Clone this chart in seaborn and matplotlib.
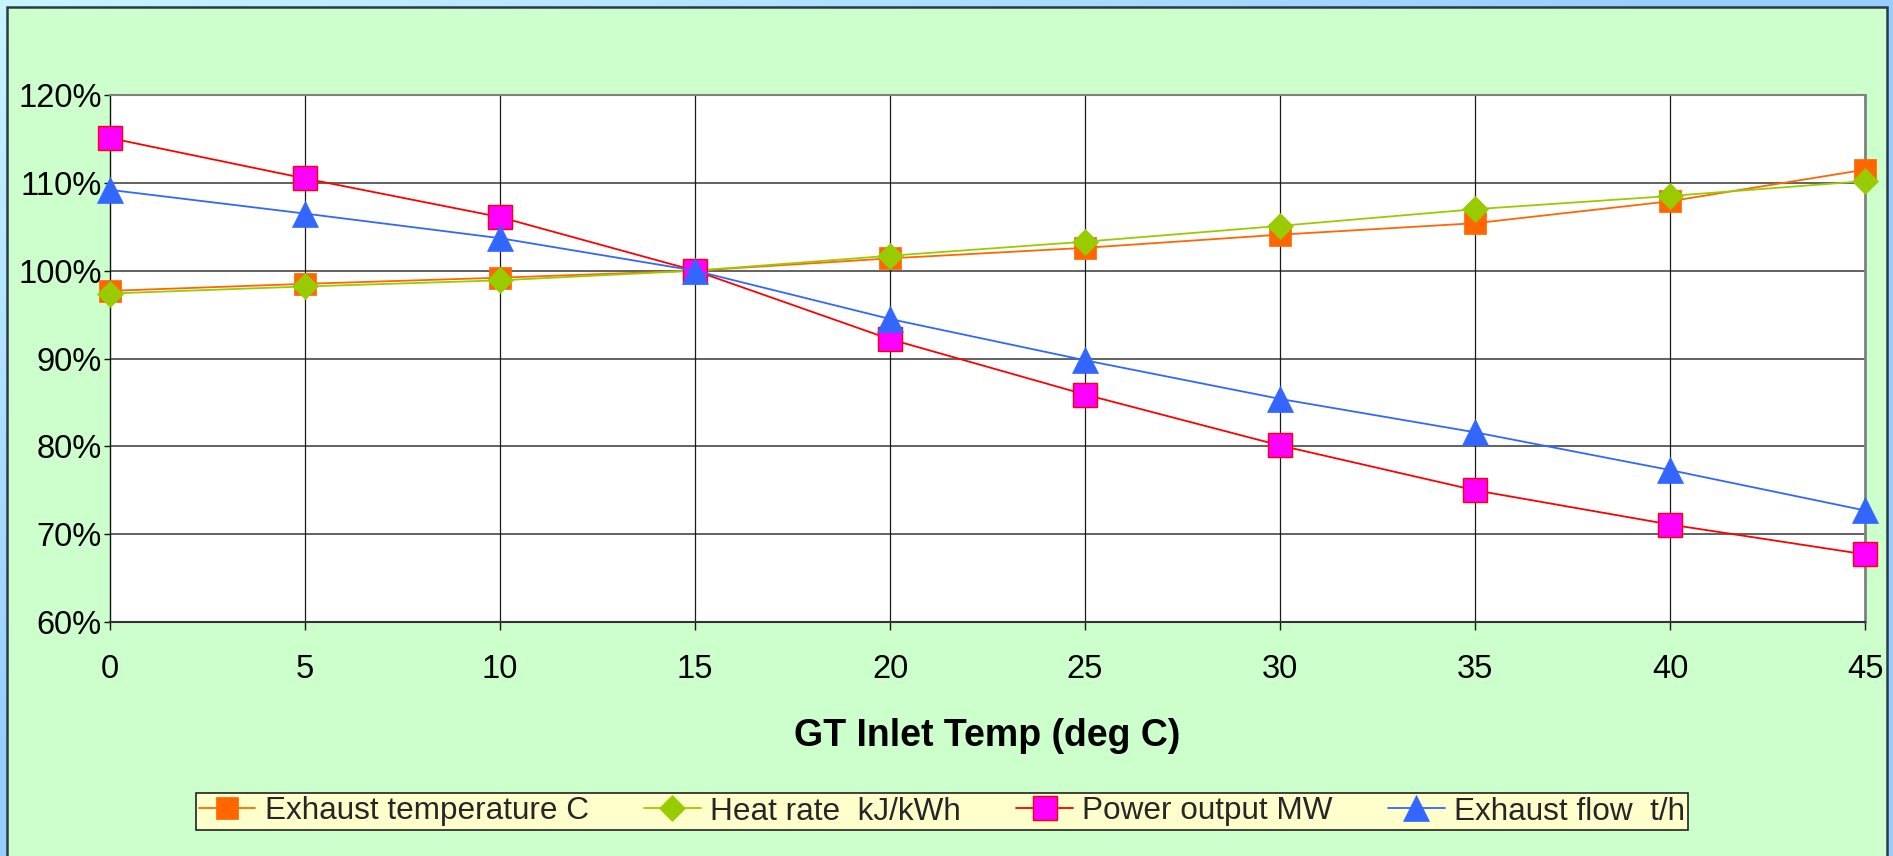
import numpy as np
import pandas as pd
import matplotlib
matplotlib.use("Agg")
import matplotlib.pyplot as plt
from matplotlib.patches import Rectangle
from matplotlib.ticker import FuncFormatter
import seaborn as sns

# GT performance vs inlet temperature, as % of ISO (15 deg C) value
inlet_temp = [0, 5, 10, 15, 20, 25, 30, 35, 40, 45]
exhaust_temp = [97.7, 98.5, 99.2, 100.0, 101.4, 102.6, 104.1, 105.4, 107.9, 111.5]
heat_rate = [97.4, 98.2, 98.9, 100.0, 101.7, 103.3, 105.1, 107.0, 108.5, 110.2]
power_output = [115.1, 110.5, 106.1, 100.0, 92.2, 85.9, 80.1, 75.0, 71.1, 67.7]
exhaust_flow = [109.2, 106.5, 103.7, 100.0, 94.5, 89.8, 85.4, 81.6, 77.3, 72.7]

series_labels = ["Exhaust temperature C", "Heat rate  kJ/kWh",
                 "Power output MW", "Exhaust flow  t/h"]
y_ticks = [60, 70, 80, 90, 100, 110, 120]
x_ticks = [0, 5, 10, 15, 20, 25, 30, 35, 40, 45]
x_title = "GT Inlet Temp (deg C)"

sns.set_theme(style="white")
plt.rcParams["font.family"] = ["Liberation Sans", "DejaVu Sans"]

W, H = 1893, 856
fig = plt.figure(figsize=(W / 100, H / 100), dpi=100)

# soft blue backdrop with diagonal gradient
bg = fig.add_axes([0, 0, 1, 1], zorder=-10)
yy, xx = np.mgrid[0:1:200j, 0:1:400j]
t = np.clip((xx + yy) / 0.9, 0, 1)[..., None]
c0 = np.array([0.78, 0.96, 1.0])
c1 = np.array([0.60, 0.80, 1.0])
bg.imshow(c0 * (1 - t) + c1 * t, extent=[0, 1, 0, 1], aspect="auto",
          origin="upper")
bg.set_axis_off()

# green chart panel
panel = Rectangle((7 / W, -0.05), (1887 - 7) / W, 1 - 7 / H + 0.05,
                  transform=fig.transFigure, facecolor="#CCFFCC",
                  edgecolor="#2B3A48", linewidth=1.8, zorder=-5)
fig.patches.append(panel)

ax = fig.add_axes([110 / W, 1 - 622 / H, (1865 - 110) / W, (622 - 95) / H])
ax.set_facecolor("white")

df = pd.DataFrame({
    "temp": inlet_temp,
    series_labels[0]: exhaust_temp,
    series_labels[1]: heat_rate,
    series_labels[2]: power_output,
    series_labels[3]: exhaust_flow,
})

styles = [
    dict(color="#FF6600", marker="s", markersize=16, markerfacecolor="#FF6600",
         markeredgecolor="#FF6600", markeredgewidth=0.5),
    dict(color="#99CC00", marker="D", markersize=13.5, markerfacecolor="#99CC00",
         markeredgecolor="#99CC00", markeredgewidth=0.5),
    dict(color="#FF0000", marker="s", markersize=17.5, markerfacecolor="#FF00FF",
         markeredgecolor="#FF0000", markeredgewidth=1.0),
    dict(color="#3366FF", marker="^", markersize=19, markerfacecolor="#3366FF",
         markeredgecolor="#3366FF", markeredgewidth=0.5),
]

for lab, st in zip(series_labels, styles):
    sns.lineplot(data=df, x="temp", y=lab, ax=ax, label=lab, linewidth=1.3,
                 clip_on=False, zorder=5, **st)

ax.set_xlim(0, 45)
ax.set_ylim(60, 120)
ax.set_xticks(x_ticks)
ax.set_yticks(y_ticks)
ax.yaxis.set_major_formatter(FuncFormatter(lambda v, p: f"{v:.0f}%"))

ax.grid(False)
for v in y_ticks[1:]:
    ax.axhline(v, color="#555555", linewidth=1.3, zorder=1)
for v in x_ticks[1:-1]:
    ax.axvline(v, color="#1A1A1A", linewidth=0.9, zorder=1)

for side, col, lw in [("left", "#111111", 1.0), ("bottom", "#333333", 1.5),
                      ("top", "#808080", 1.5), ("right", "#808080", 2.0)]:
    ax.spines[side].set_visible(True)
    ax.spines[side].set_color(col)
    ax.spines[side].set_linewidth(lw)

ax.tick_params(axis="x", direction="out", length=6, width=1, color="#111111",
               pad=17, labelsize=23.5, labelcolor="black", bottom=True)
ax.tick_params(axis="y", direction="out", length=4.5, width=1, color="#111111",
               pad=1.5, labelsize=23.5, labelcolor="black", left=True)

ax.set_ylabel("")
ax.set_xlabel(x_title, fontsize=27, fontweight="bold", labelpad=24,
              color="black")

handles, labels = ax.get_legend_handles_labels()
ax.get_legend().remove()
leg = fig.legend(handles, labels, loc="center", ncol=4,
                 bbox_to_anchor=(942 / W, 1 - 811.5 / H),
                 fontsize=22.7, frameon=True, fancybox=False, shadow=False,
                 framealpha=1, facecolor="#FFFFCC", edgecolor="#222222",
                 borderpad=0.1, handlelength=1.8, handletextpad=0.3,
                 columnspacing=1.75, borderaxespad=0)
leg.get_frame().set_linewidth(1.2)

fig.savefig("out.png", dpi=100)
